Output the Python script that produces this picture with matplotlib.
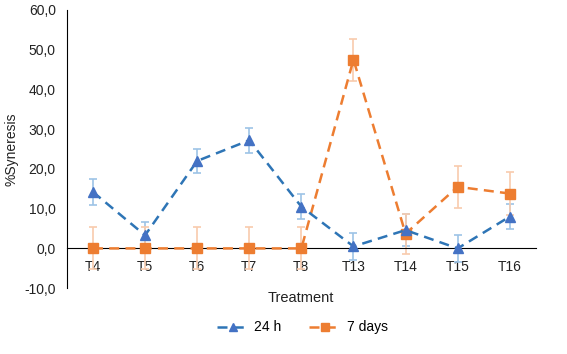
import numpy as np
import matplotlib.pyplot as plt
from matplotlib.ticker import FuncFormatter

plt.rcParams['font.family'] = ['Liberation Sans', 'DejaVu Sans']

treatments = ['T4', 'T5', 'T6', 'T7', 'T8', 'T13', 'T14', 'T15', 'T16']
h24 = [14.2, 3.3, 22.0, 27.2, 10.5, 0.5, 4.6, 0.0, 8.0]
h24_err = [3.2, 3.3, 3.1, 3.2, 3.2, 3.3, 4.0, 3.3, 3.1]
d7 = [0.0, 0.0, 0.0, 0.0, 0.0, 47.5, 3.7, 15.5, 13.8]
d7_err = [5.3, 5.3, 5.3, 5.3, 5.3, 5.3, 5.0, 5.3, 5.3]

x = np.arange(len(treatments))

fig = plt.figure(figsize=(5.67, 3.54), dpi=100)
ax = fig.add_axes([0.118, 0.186, 0.827, 0.786])

# error bars first (light colours), then lines + markers
ax.errorbar(x, h24, yerr=h24_err, fmt='none', ecolor='#9DC3E6', elinewidth=1.2,
            capsize=3, capthick=1.2, zorder=2)
ax.errorbar(x, d7, yerr=d7_err, fmt='none', ecolor='#F8CBAD', elinewidth=1.2,
            capsize=3, capthick=1.2, zorder=2)

ax.plot(x, h24, color='#2E75B6', linestyle=(0, (4, 2.5)), linewidth=1.8,
        marker='^', markersize=6.5, markerfacecolor='#4472C4',
        markeredgecolor='#4472C4', label='24 h', zorder=4)
ax.plot(x, d7, color='#ED7D31', linestyle=(0, (4, 2.5)), linewidth=1.8,
        marker='s', markersize=6.5, markerfacecolor='#ED7D31',
        markeredgecolor='#ED7D31', label='7 days', zorder=3)

ax.set_xlim(-0.5, len(treatments) - 0.5)
ax.set_ylim(-10, 60)
ax.set_yticks(np.arange(-10, 61, 10))
ax.yaxis.set_major_formatter(FuncFormatter(lambda v, p: f'{v:.1f}'.replace('.', ',')))
ax.set_xticks(x)
ax.set_xticklabels(treatments)

ax.spines['top'].set_visible(False)
ax.spines['right'].set_visible(False)
ax.spines['bottom'].set_position(('data', 0))
ax.spines['bottom'].set_color('black')
ax.spines['left'].set_color('black')
ax.tick_params(axis='both', length=0, labelsize=10, colors='#222222')
ax.tick_params(axis='x', pad=8)
ax.tick_params(axis='y', pad=8)

ax.set_ylabel('%Syneresis', fontsize=10, color='#222222')
fig.text(0.53, 0.158, 'Treatment', ha='center', va='center', fontsize=10.5,
         color='#222222')

fig.legend(loc='center', bbox_to_anchor=(0.533, 0.075), ncol=2, frameon=False,
           fontsize=10, handlelength=2.3, handletextpad=0.4, columnspacing=2.0,
           markerscale=0.85)

fig.savefig('out.png', dpi=100)
